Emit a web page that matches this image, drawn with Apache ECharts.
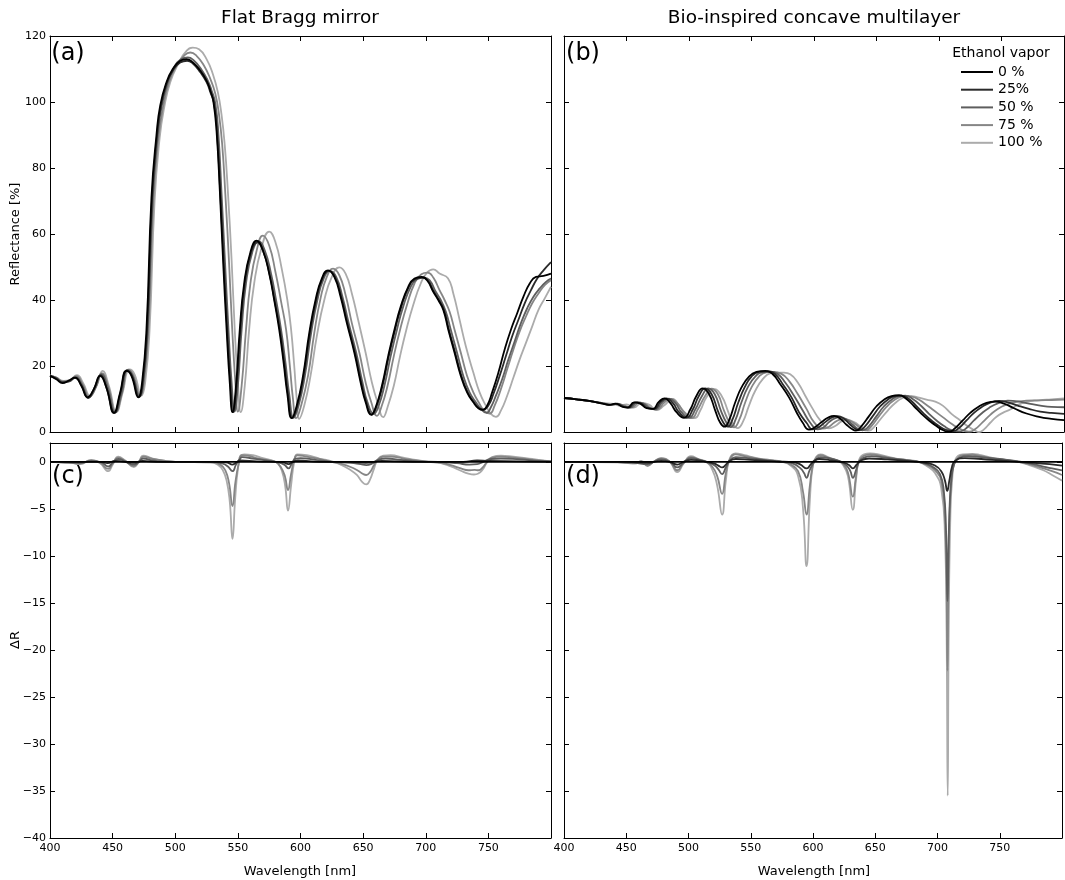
<!DOCTYPE html>
<html>
<head>
<meta charset="utf-8">
<script src="https://cdn.jsdelivr.net/npm/echarts@6/dist/echarts.min.js"></script>
<style>
html,body{margin:0;padding:0;background:#fff;}
#chart{width:1065px;height:880px;}
</style>
</head>
<body>
<div id="chart"></div>
<script>
// ---------- legend / series names ----------
const seriesNames = ['0 %', '25%', '50 %', '75 %', '100 %'];
const xTicks = [400, 450, 500, 550, 600, 650, 700, 750];

// ---------- (a) Flat Bragg mirror, reflectance [%] ----------
const flat0 = [[400,17],[405,16],[410,14.8],[415,15.6],[420,16.5],[425,14],[430,10.5],[435,13],[440,17],[445,13.5],[451,5.8],[456,12],[461,18.5],[465,17],[470.5,10.5],[473.5,15],[477,31],[481,71],[485,90],[488,99],[493,106],[498,110],[504,112.5],[509,113],[514,112],[520,109.5],[525,106.5],[528,103.5],[530.5,100],[533,91],[535.6,73],[538.3,51],[541,31],[543.5,15],[545.7,6],[548.5,14],[551.5,31],[555,45],[560,54.5],[565,58],[570,55],[575,48],[579,40],[583,31],[586.5,21],[589.5,11.5],[593,4.2],[597,8],[602,17],[607,30],[612,40],[617,46.5],[622,49],[627,47],[632,41],[637,33],[643,24],[648,15],[652,9],[656.5,5.2],[660,7.5],[665,14],[670,23],[675,31],[680,38],[686,44],[691,46.5],[696.5,47],[701,46],[706,42.5],[710,40],[714,37],[718,31],[723,24],[728,17],[733,12],[738,9],[742,7.2],[745.6,6.7],[749,8],[753,12],[758,18],[763,25],[768,31],[773,36],[778,41],[783,45],[788,47],[794,47.3],[800,48]];
const flat25 = [[400,17],[405,16.2],[410,15],[415,15.4],[420,16.4],[425,14.2],[430.5,10.3],[435,13],[440.5,17.2],[445,13.5],[451.5,5.7],[456,11.5],[461.5,18.6],[465.5,17],[471,10.6],[474,15],[477.5,31],[481.5,71],[485.5,90],[488.5,98.5],[493,105.5],[498,109.5],[504,112],[509.5,112.5],[514.5,111.5],[520,109],[525,106],[528,103],[531,99.5],[533.5,90],[536,72],[538.8,51],[541.5,31],[544,15],[546.2,6],[549,14],[552,31],[555.5,45],[560.5,54.5],[565.5,57.5],[570.5,54.5],[575.5,47.5],[579.5,39.5],[583.5,31],[587,21],[590,11.5],[593.5,4.2],[597.5,8],[602.5,17],[607.5,30],[612.5,40],[617.5,46.5],[622.5,48.8],[627.5,47],[632.5,41],[637.5,33],[643.5,24],[648.5,15],[652.5,9],[657,5.3],[660.5,7.5],[665.5,14],[670.5,23],[675.5,31],[680.5,38],[686.5,44],[691.5,46.3],[697,46.8],[701.5,46],[706.5,42.5],[710.5,40],[714.5,37],[718.5,31],[723.5,24],[728.5,17],[733.5,12],[738.5,9],[742.5,7.2],[746,6.8],[750,8],[754,11.5],[759,17],[764,23],[769,29],[774,34],[779,39],[784,43],[789,46.5],[794,49],[800,51.5]];
const flat50 = [[400,17],[405,16.4],[410,15.2],[415,15.3],[420.5,16.6],[425.5,14.3],[431,10.5],[436,13.2],[441,17.5],[446,13.5],[452,5.9],[457,11.6],[462,18.8],[466,17],[471.5,10.8],[474.5,15],[478,31],[482,71],[486,90],[489,98.5],[494,106],[499,110.5],[505,113],[510,113.5],[515,112.5],[521,109.8],[526,106.5],[529,103.5],[532,99.5],[534.5,90],[537,72],[539.8,51],[542.5,31],[545,15],[547.3,6.2],[550,14],[553,31],[556.5,45],[561.5,54.5],[566.5,57.8],[571.5,55],[576.5,48],[580.5,40],[584.5,31],[588,21],[591,11.5],[594.5,4.3],[598.5,8],[603.5,17],[608.5,30],[613.5,40],[618.5,46.5],[623.5,48.8],[628.5,47],[633.5,41],[638.5,33],[644.5,24],[649.5,15],[653.5,9],[658.5,5.5],[662,7.5],[667,14],[672,23],[677,31],[682,38],[688,44],[693,46.3],[698.5,46.8],[703,46],[708,42.5],[712,40],[716,36.5],[720,31],[725,24],[730,17],[735,12],[740,9],[744,7],[748.5,5.8],[752,7.5],[756,11],[761,16],[766,22],[771,27.5],[776,33],[781,37.5],[786,41],[791,43.5],[796,45.5],[800,46.5]];
const flat75 = [[400,17],[405,16.5],[410.5,15.3],[415.5,15.6],[421,16.9],[426,14.5],[431.5,10.7],[436.5,13.5],[441.5,17.8],[446.5,13.8],[452.5,6],[457.5,11.8],[462.5,18.9],[466.5,17.2],[472,11],[475,15],[478.5,31],[482.5,70],[486.5,89],[490,98],[495,106],[501,111],[507,114],[512,115],[517,114],[523,111],[528,107],[532,102.5],[535,96],[537.5,87],[540,72],[543,51],[545.5,31],[548,15],[550,6.2],[553,14],[556.5,31],[560,45],[565,55],[570,59.5],[575,56.5],[580,48.5],[584.5,39.5],[588.5,31],[591.5,20],[594,10],[596.5,4.2],[600.5,8],[606,17],[611,30],[616,40.5],[621,47],[626,49.5],[631,47.5],[636,41.5],[641,33],[647,24],[652,15],[656.5,9],[661,4.9],[664.5,7.5],[669.5,14],[674.5,23],[679.5,31],[685,38.5],[691,45],[696.5,47.8],[701.5,48.3],[706,46.8],[711,43],[715,40],[719,36.5],[723,31],[728,24],[733,17],[738,12],[743,8.5],[747,6.3],[751,5.6],[755,8],[760,13],[765,19],[770,25],[775,30.5],[780,35],[785,39],[790,42],[795,44.5],[800,46]];
const flat100 = [[400,17.2],[405,16.5],[411,15.5],[416,15.8],[421.5,17.2],[426.5,14.8],[432,11],[437,13.8],[442,18.5],[447,14],[453,6],[458,12],[463.5,19],[467.5,17.5],[473,11],[476,15],[479.5,31],[483.5,70],[487.5,89],[491,98],[496,106],[503,112],[509,115.5],[514,116.5],[519,116],[525,113],[530,108.5],[534,103],[537,96],[539.5,87],[542,73],[545,52],[547.5,31],[550,15],[552.3,6],[555.5,14],[559,31],[563,45],[569,56],[575,60.7],[580,57.5],[585,49.5],[589.5,40],[592.5,31],[595,20],[597,10],[599,4],[603,8],[608,17],[613,29],[619,40],[625,47],[631,49.9],[636,48],[641,42],[646,34],[652,24],[657,15],[661.5,9],[666,4.5],[669.5,7.5],[674.5,14],[679.5,23],[684.5,31],[690,38.5],[696,45],[701,48.3],[706,49.3],[711,48],[717.7,46.6],[722,42],[727,34],[732,26],[738,18],[743,12],[748,8],[752,5.5],[756,4.6],[760,6.5],[765,11],[770,16.5],[775,22],[780,27],[785,32],[790,37],[795,40.5],[800,44]];

// ---------- (b) Bio-inspired concave multilayer, reflectance [%] ----------
const bio0 = [[400,10.3],[410,9.9],[420,9.4],[430,8.7],[436,8.2],[441,8.6],[447,7.6],[451,7.4],[456,9.0],[461,8.6],[466,7.2],[471,7.0],[476,9.2],[480.5,10.2],[485,8.8],[490,6],[496,4.3],[501,6.8],[506,11],[511,13.2],[516,11.5],[521,6.5],[525,2.8],[528.5,1.6],[532,3.5],[537,9],[542,13.5],[548,16.8],[554,18.2],[561,18.5],[567,17.5],[573,14.5],[580,10.5],[586,6],[591,2.8],[596,0.7],[601,1.5],[606,3],[611,4.3],[616,4.9],[621,4],[626,2.2],[630,1],[633.5,0.4],[638,1.8],[644,4.8],[650,7.8],[656,9.8],[662,10.9],[668,11.2],[674,10],[680,7.8],[686,5.5],[692,3.5],[698,1.8],[703,0.6],[708,0],[713,1.2],[719,3.5],[725,5.8],[731,7.5],[738,8.8],[745,9.2],[752,8.6],[760,7.2],[770,5.6],[780,4.6],[790,4],[800,3.6]];
const bio25 = [[400,10.3],[410,9.9],[420,9.4],[430,8.7],[437,8.2],[442,8.6],[448,7.6],[452,7.4],[457,9.0],[462,8.6],[467,7.2],[472,7.0],[477.5,9.2],[482,10.2],[487,8.8],[492,6],[498,4.3],[503,6.8],[508,11],[513,13.2],[518,11.5],[523,6.5],[527.5,2.8],[531,1.6],[534.5,3.5],[539.5,9],[544.5,13.5],[550,16.8],[556,18.2],[563,18.4],[569,17.5],[575,14.5],[582,10.5],[588,6],[594,2.8],[599,0.8],[604,1.5],[609,3],[614,4.3],[619,4.8],[624,4],[629,2.2],[633,1],[636,0.5],[641,1.8],[647,4.8],[653,7.8],[659,9.8],[665,10.9],[670,11],[676,10],[682,7.8],[688,5.5],[694,3.5],[700,1.8],[706,0.6],[711,0.2],[716,1.2],[722,3.5],[728,5.8],[734,7.5],[741,8.9],[748,9.4],[755,9],[763,8],[772,7],[781,6.2],[790,5.8],[800,5.5]];
const bio50 = [[400,10.3],[410,9.9],[420,9.4],[430,8.8],[438,8.2],[443,8.6],[449,7.6],[453,7.4],[458.5,9.0],[463.5,8.6],[468.5,7.2],[473,6.9],[479,9.2],[484,10.1],[489,8.8],[494,6],[500,4.3],[505,6.8],[510.5,11],[515.5,13.2],[520.5,11.5],[525.5,6.5],[530,2.8],[533.5,1.5],[537,3.5],[542,9],[547,13.5],[553,16.8],[559,18.1],[565,18.3],[571,17.6],[577,15],[584,11],[591,6.5],[597,2.8],[603,0.8],[608,1.5],[612,3],[617,4.2],[621,4.5],[626,3.8],[631,2.2],[635,1],[639,0.5],[644,1.8],[650,4.8],[656,7.8],[662,9.8],[668,10.9],[673,11],[679,10],[686,7.8],[692,5.5],[698,3.5],[704,1.8],[710,0.6],[717,0.2],[722,1.2],[728,3.5],[734,5.6],[740,7.3],[747,8.7],[755,9.5],[763,9.3],[772,8.6],[781,8],[790,7.6],[800,7.5]];
const bio75 = [[400,10.3],[410,9.9],[420,9.4],[430,8.8],[439,8.3],[444,8.4],[450,7.8],[454.5,7.4],[460,8.9],[465,8.5],[470,7.1],[474,6.8],[480.5,9],[485.5,10],[490.5,8.8],[496,6],[502,4.2],[507,6.8],[513,11],[518,13.1],[523,11.5],[528,6.5],[532.5,2.8],[536,1.4],[540,3.5],[545,9],[550,13.5],[556,16.8],[562,18.1],[567,18.2],[574,17.6],[580,15.5],[587,11.5],[594,7],[600,3],[607,1],[612,1.6],[616,2.8],[620,3.7],[624,4],[629,3.4],[634,2.1],[638,1],[641.5,0.5],[646,1.8],[652,4.8],[658,7.6],[664,9.6],[670,10.7],[675.5,10.9],[682,10.2],[689,8.5],[696,6.5],[703,4.5],[710,2.5],[717,0.9],[724,0.1],[729,0.9],[735,3],[741,5.2],[747,7],[754,8.3],[762,9.1],[770,9.5],[780,9.6],[790,9.7],[800,9.8]];
const bio100 = [[400,10.3],[410,9.9],[420,9.4],[430,8.8],[440,8.5],[445,8.0],[450,8.4],[456,7.4],[462,8.8],[468,8.3],[474,6.6],[480,8],[487,10],[492,8],[498,5.5],[504.5,4.2],[509,6.5],[514,10.5],[520.5,13],[526,11],[531,6.5],[535,2.5],[539,1.2],[543,3],[548,8],[553,12.5],[559,16],[565,17.8],[570,18],[576,18],[581,17.5],[587,15],[593,11],[599,7],[605,3.5],[612,1.1],[617,1.8],[622,3.2],[627,3.6],[632,3],[637,1.8],[641,0.8],[644,0.4],[648,1.5],[653,3.8],[659,6.5],[665,8.8],[671,10.3],[678,10.9],[684,10.4],[690,9.8],[697,9.2],[703,8],[710,5.5],[717,3.5],[724,1.5],[729,0.4],[732,0],[736,0.8],[741,2.8],[746,4.6],[751,5.8],[757,6.8],[763,8.2],[770,9.1],[780,9.6],[790,9.9],[800,10.2]];

// ---------- (c) Flat Bragg mirror, ΔR ----------
const dflat0 = [[400,0],[800,0]];
const dflat25 = [[400,0],[440,0],[446,-0.15],[452,0.1],[467,-0.1],[474,0.1],[485,0],[535,0],[542,-0.1],[545.5,-0.3],[548.5,-0.1],[552,0.15],[565,0.05],[580,0],[586,-0.05],[590.5,-0.25],[594,0],[598,0.15],[615,0],[640,0],[652,-0.1],[665,0.1],[690,0],[730,0],[741,0.15],[750,0.1],[800,0]];
const dflat50 = [[400,0],[424,-0.1],[433,0.1],[441,-0.05],[446.5,-0.5],[450,-0.1],[454.5,0.3],[460,0.05],[467,-0.3],[471,0],[474.5,0.35],[482,0.15],[495,0],[530,0],[538,-0.2],[542,-0.5],[545.7,-1.0],[548.5,-0.3],[551.5,0.3],[553.5,0.5],[562,0.35],[575,0.1],[582,-0.05],[587,-0.3],[590.5,-0.7],[593,-0.2],[596,0.35],[600,0.4],[612,0.2],[625,0],[640,-0.1],[648,-0.25],[652.5,-0.35],[657,-0.2],[662,0.2],[668,0.35],[680,0.2],[695,0.05],[710,0],[725,-0.15],[735,-0.3],[741,-0.25],[746,0],[752,0.3],[760,0.35],[775,0.25],[790,0.1],[800,0.05]];
const dflat75 = [[400,0],[415,-0.05],[424,-0.2],[433,0.15],[440,-0.1],[446.5,-0.75],[450,-0.2],[454.5,0.45],[460,0.1],[467,-0.45],[471,0],[474.5,0.55],[482,0.3],[492,0.1],[500,0],[530,-0.05],[536,-0.3],[540,-0.9],[543,-2.3],[545.7,-4.7],[548,-2.2],[550.5,-0.3],[553,0.7],[558,0.65],[565,0.4],[575,0.15],[580,0],[584,-0.5],[587.5,-1.5],[590,-3.0],[592.5,-1.3],[595,0.2],[597.5,0.7],[605,0.55],[615,0.3],[625,0],[632,-0.2],[640,-0.55],[646,-0.95],[650,-1.3],[652.5,-1.4],[655.5,-1.1],[658.5,-0.4],[661.5,0.2],[666,0.55],[672,0.55],[682,0.35],[692,0.15],[702,0],[712,-0.1],[720,-0.35],[728,-0.7],[734,-0.9],[739,-0.85],[742,-0.9],[745.5,-0.6],[749,0],[753,0.45],[760,0.55],[770,0.45],[780,0.3],[790,0.15],[800,0.05]];
const dflat100 = [[400,0],[415,-0.05],[424,-0.25],[433,0.2],[440,-0.15],[446.5,-1.0],[450,-0.3],[454.5,0.55],[460,0.15],[467,-0.55],[471,0],[474.5,0.65],[482,0.35],[492,0.1],[500,0],[528,-0.05],[534,-0.3],[538,-0.9],[541,-2.0],[543.5,-4.2],[545.7,-8.2],[547.8,-4],[550,-0.8],[552.5,0.6],[555,0.8],[562,0.7],[570,0.4],[578,0.1],[582,-0.2],[585,-0.9],[587.8,-2.6],[590,-5.2],[592.5,-2.5],[595,0],[597.5,0.8],[605,0.7],[615,0.35],[625,0.05],[632,-0.3],[639,-0.8],[645,-1.4],[649,-2.1],[652.5,-2.4],[655.5,-1.9],[658.5,-0.8],[661.5,0.2],[666,0.65],[672,0.7],[682,0.45],[692,0.2],[702,0],[712,-0.15],[720,-0.5],[728,-0.95],[734,-1.25],[738.5,-1.35],[742,-1.25],[745.5,-0.8],[749,-0.05],[753,0.5],[760,0.65],[770,0.55],[780,0.4],[790,0.2],[800,0.05]];

// ---------- (d) Bio-inspired concave multilayer, ΔR ----------
const dbio0 = [[400,0],[800,0]];
const dbio25 = [[400,0],[450,0],[467,-0.1],[478,0.1],[485,0],[491,-0.3],[496,0],[502,0.2],[515,0],[521,-0.2],[524,-0.4],[527,-0.6],[530,-0.3],[533,0.1],[538,0.3],[550,0.2],[570,0.05],[585,-0.05],[590,-0.3],[595,-0.7],[598,-0.3],[601,0.1],[605,0.3],[615,0.15],[625,-0.1],[629,-0.35],[632,-0.7],[635,-0.3],[638,0.1],[645,0.35],[660,0.25],[680,0.05],[690,-0.1],[698,-0.4],[703,-1.0],[706,-2.0],[707.8,-3.1],[709.5,-2.0],[711.5,-0.6],[714,0.1],[722,0.4],[735,0.3],[750,0.15],[765,0],[780,-0.15],[790,-0.25],[800,-0.4]];
const dbio50 = [[400,0],[450,-0.05],[457,-0.1],[467,-0.25],[472,0],[478,0.25],[485,0],[491,-0.6],[496,-0.1],[502,0.4],[510,0.15],[516,-0.1],[521,-0.4],[524,-0.8],[527,-1.3],[530,-0.6],[533,0.1],[538,0.5],[548,0.4],[560,0.2],[575,0],[584,-0.2],[590,-0.7],[592.8,-1.2],[594.8,-1.7],[597,-1.0],[600,-0.2],[603,0.3],[606,0.5],[614,0.35],[622,0.05],[627,-0.4],[630,-1.0],[632,-1.7],[634.5,-0.9],[637,0],[641,0.45],[647,0.6],[658,0.45],[670,0.25],[682,0.05],[690,-0.2],[697,-0.6],[702,-1.3],[705,-3.0],[706.8,-7],[708,-14.8],[709.2,-7],[711,-2],[713.5,-0.2],[717,0.35],[725,0.6],[735,0.5],[750,0.3],[765,0.05],[775,-0.2],[785,-0.5],[792,-0.7],[800,-0.9]];
const dbio75 = [[400,0],[440,0],[450,-0.1],[457,-0.15],[462,0.05],[467,-0.4],[472,0],[478,0.35],[485,0],[491,-0.9],[496,-0.15],[502,0.5],[508,0.25],[514,0],[519,-0.5],[523,-1.5],[527,-3.4],[530,-1.2],[533,0.2],[537.7,0.8],[545,0.6],[555,0.35],[565,0.15],[575,0],[582,-0.3],[588,-1.0],[592,-3.2],[594.8,-5.6],[597.5,-2.5],[600,-0.3],[603,0.5],[606,0.7],[612,0.45],[620,0.1],[624,-0.2],[628,-1.1],[632,-3.7],[634.5,-1.6],[637,0.1],[641,0.65],[646,0.8],[655,0.6],[665,0.35],[675,0.15],[685,0],[692,-0.35],[698,-0.9],[703,-2.0],[706,-6],[707.2,-12],[708,-22.2],[708.8,-12],[710,-4.5],[712,-1],[715,0.2],[721,0.7],[728,0.75],[735,0.6],[745,0.35],[755,0.15],[765,0],[775,-0.3],[785,-0.7],[792,-1.0],[800,-1.4]];
const dbio100 = [[400,0],[440,0],[450,-0.1],[457,-0.2],[462,0.1],[467,-0.45],[472,0],[478,0.4],[485,0],[491,-1.1],[496,-0.2],[502,0.6],[508,0.3],[514,0],[519,-0.8],[523,-2.5],[527,-5.6],[530,-2],[533,0.3],[537.7,0.9],[545,0.7],[555,0.4],[565,0.2],[575,0],[582,-0.4],[588,-1.5],[592,-5],[594.8,-11.1],[597.5,-4],[600,-0.3],[603,0.6],[606,0.8],[612,0.5],[620,0.1],[624,-0.3],[628,-1.5],[632,-5.1],[634.5,-2],[637,0.2],[641,0.8],[646,0.9],[655,0.7],[665,0.4],[675,0.2],[685,0],[692,-0.5],[698,-1.2],[703,-2.8],[706,-8],[707.3,-18],[708.2,-35.5],[709,-18],[710.3,-6],[712,-1.5],[714.5,0.3],[720,0.8],[728,0.85],[735,0.7],[745,0.4],[755,0.2],[765,0],[775,-0.4],[785,-0.9],[792,-1.4],[800,-2.0]];

// ---------- chart ----------
const panels = [
  [flat0, flat25, flat50, flat75, flat100],
  [bio0, bio25, bio50, bio75, bio100],
  [dflat0, dflat25, dflat50, dflat75, dflat100],
  [dbio0, dbio25, dbio50, dbio75, dbio100]
];
const colors = ['#000000', '#2a2a2a', '#5e5e5e', '#868686', '#ababab'];
const FONT = '"DejaVu Sans", "Liberation Sans", sans-serif';

const grids = [
  {left: 50, top: 36, width: 501, height: 396},
  {left: 564, top: 36, width: 500, height: 396},
  {left: 50, top: 443, width: 501, height: 395},
  {left: 564, top: 443, width: 500, height: 395}
];

const minusFmt = v => String(v).replace('-', '\u2212');
const xAxes = [], yAxes = [];
grids.forEach((g, i) => {
  const bottomRow = i >= 2, leftCol = (i % 2 === 0);
  const common = {
    gridIndex: i, type: 'value', min: 400, max: 800, interval: 50,
    axisLine: {onZero: false, lineStyle: {color: '#000', width: 1}},
    axisTick: {inside: true, length: 5, lineStyle: {color: '#000'}},
    splitLine: {show: false}
  };
  xAxes.push(Object.assign({}, common, {
    position: 'bottom',
    axisLabel: {show: bottomRow, margin: 5, color: '#000', fontSize: 11, fontFamily: FONT,
      formatter: v => (xTicks.indexOf(v) >= 0 ? String(v) : '')}
  }));
  xAxes.push(Object.assign({}, common, {position: 'top', axisLabel: {show: false}}));
  const yr = bottomRow ? {min: -40, max: 2, interval: 5} : {min: 0, max: 120, interval: 20};
  const ycommon = Object.assign({
    gridIndex: i, type: 'value',
    axisLine: {show: true, onZero: false, lineStyle: {color: '#000', width: 1}},
    axisTick: {show: true, inside: true, length: 5, lineStyle: {color: '#000'}},
    splitLine: {show: false}
  }, yr);
  yAxes.push(Object.assign({}, ycommon, {
    position: 'left',
    axisLabel: {show: leftCol, margin: 4, color: '#000', fontSize: 11, fontFamily: FONT,
      formatter: v => (v % yr.interval === 0 ? minusFmt(v) : '')}
  }));
  yAxes.push(Object.assign({}, ycommon, {position: 'right', axisLabel: {show: false}}));
});

const series = [];
panels.forEach((arrs, i) => {
  arrs.forEach((d, k) => {
    series.push({
      name: seriesNames[k], type: 'line', data: d,
      xAxisIndex: 2 * i, yAxisIndex: 2 * i,
      showSymbol: false, symbol: 'none', smooth: 0.5,
      lineStyle: {color: colors[k], width: 1.8},
      itemStyle: {color: colors[k]},
      z: 10 - k, animation: false, silent: true
    });
  });
});

const legends = seriesNames.map((n, k) => ({
  data: [n], orient: 'vertical', left: 961, top: 65 + k * 17.7, padding: 0,
  icon: 'rect', itemWidth: 32, itemHeight: 2, itemGap: 0,
  textStyle: {fontSize: 14, fontFamily: FONT, color: '#000'},
  selectedMode: false
}));

const txt = (x, y, text, size, extra) => Object.assign({
  type: 'text', x: x, y: y, silent: true,
  style: {text: text, font: size + 'px ' + FONT, fill: '#000', textAlign: 'center', textVerticalAlign: 'middle'}
}, extra || {});

const graphics = [
  txt(300, 18, 'Flat Bragg mirror', 18.5),
  txt(814, 18, 'Bio-inspired concave multilayer', 18.5),
  txt(68, 54, '(a)', 24),
  txt(583, 54, '(b)', 24),
  txt(68, 477, '(c)', 24),
  txt(583, 477, '(d)', 24),
  txt(1001, 53, 'Ethanol vapor', 14),
  txt(300, 872, 'Wavelength [nm]', 13),
  txt(814, 872, 'Wavelength [nm]', 13),
  txt(16, 234, 'Reflectance [%]', 13, {rotation: Math.PI / 2}),
  txt(16, 640, '\u0394R', 13, {rotation: Math.PI / 2})
];

const chart = echarts.init(document.getElementById('chart'), null, {renderer: 'canvas'});
chart.setOption({
  backgroundColor: '#ffffff',
  animation: false,
  grid: grids,
  xAxis: xAxes,
  yAxis: yAxes,
  legend: legends,
  series: series,
  graphic: graphics
});
</script>
</body>
</html>
